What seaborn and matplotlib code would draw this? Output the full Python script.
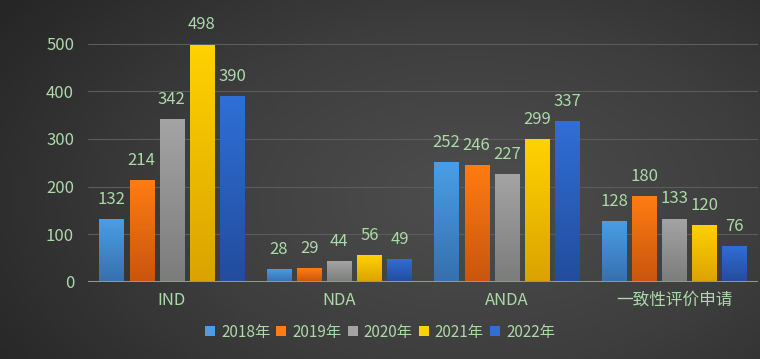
import numpy as np
import pandas as pd
import seaborn as sns
import matplotlib.pyplot as plt
from matplotlib.colors import LinearSegmentedColormap
from matplotlib.patches import Patch

# --- data ---
categories = ['IND', 'NDA', 'ANDA', '一致性评价申请']
years = ['2018年', '2019年', '2020年', '2021年', '2022年']
v2018 = [132, 28, 252, 128]
v2019 = [214, 29, 246, 180]
v2020 = [342, 44, 227, 133]
v2021 = [498, 56, 299, 120]
v2022 = [390, 49, 337, 76]

rows = []
for yr, vals in zip(years, [v2018, v2019, v2020, v2021, v2022]):
    for cat, v in zip(categories, vals):
        rows.append({'cat': cat, 'year': yr, 'value': v})
df = pd.DataFrame(rows)

# top / bottom colours of the gradient bars
top_cols = ['#4a9ee6', '#ff7c12', '#a4a4a4', '#ffd200', '#2f6fd6']
bot_cols = ['#3670ad', '#c8560e', '#7c7c7c', '#dba300', '#234c9c']
txt = '#abdaa8'

sns.set_theme(style='dark')
plt.rcParams['font.family'] = ['Noto Sans CJK SC', 'DejaVu Sans']

fig = plt.figure(figsize=(7.6, 3.59), dpi=100)

# background gradient
bg = fig.add_axes([0, 0, 1, 1])
xx, yy = np.meshgrid(np.linspace(0, 1, 200), np.linspace(0, 1, 100))
dist = np.sqrt(((xx - 0.62) * 1.0) ** 2 + ((yy - 0.55) * 0.8) ** 2)
bg_cmap = LinearSegmentedColormap.from_list('bg', ['#4e4e4e', '#3e3e3e', '#262626'])
bg.imshow(dist, cmap=bg_cmap, aspect='auto', extent=[0, 1, 0, 1], vmin=0, vmax=0.75)
bg.axis('off')

ax = fig.add_axes([88 / 760, 1 - 282 / 359, 670 / 760, 267 / 359])
ax.patch.set_alpha(0)

sns.barplot(data=df, x='cat', y='value', hue='year', order=categories, hue_order=years,
            palette=top_cols, width=0.9, gap=0.2, ax=ax, legend=False, saturation=1)

# gradient fill on each bar
for i, cont in enumerate(ax.containers):
    cmap = LinearSegmentedColormap.from_list('g%d' % i, [bot_cols[i], top_cols[i]])
    for bar in cont:
        x0, w, h = bar.get_x(), bar.get_width(), bar.get_height()
        grad = np.linspace(0, 1, 100).reshape(-1, 1)
        im = ax.imshow(grad, cmap=cmap, origin='lower', aspect='auto',
                       extent=[x0, x0 + w, 0, h], zorder=2)
        im.set_clip_path(bar)
        bar.set_edgecolor('none')
    ax.bar_label(cont, padding=8, color=txt, fontsize=12)

ax.set_xlim(-0.5, 3.5)
ax.set_ylim(0, 560)

ax.set_yticks([0, 100, 200, 300, 400, 500])
ax.yaxis.grid(True, color='#5c5c5c', linewidth=0.8)
ax.xaxis.grid(False)
ax.set_axisbelow(True)
for s in ax.spines.values():
    s.set_visible(False)
ax.axhline(0, color='#8c9c8a', linewidth=2.2, zorder=3)
ax.tick_params(axis='y', colors=txt, labelsize=12, length=0, pad=10)
ax.tick_params(axis='x', colors=txt, labelsize=12, length=0, pad=7)
ax.set_xlabel('')
ax.set_ylabel('')

handles = [Patch(facecolor=c, edgecolor='none') for c in top_cols]
fig.legend(handles, years, loc='center', bbox_to_anchor=(0.5, 1 - 332 / 359), ncol=5,
           frameon=False, fontsize=11, labelcolor=txt, handlelength=0.65, handleheight=0.65,
           handletextpad=0.4, columnspacing=0.4)

plt.savefig('out.png', dpi=100)
